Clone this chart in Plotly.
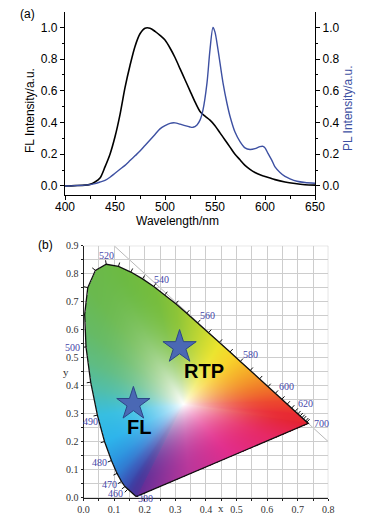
import numpy as np
import plotly.graph_objects as go

# ---------------- data: panel (a) ----------------
wl_fl = [400, 410, 420, 425, 430, 435, 440, 445, 450, 455, 460, 465, 470, 475, 480, 485,
         490, 495, 500, 505, 510, 515, 520, 525, 530, 535, 540, 545, 550, 555, 560, 565,
         570, 575, 580, 585, 590, 595, 600, 610, 620, 630, 640, 650]
fl = [0.0, 0.002, 0.005, 0.01, 0.025, 0.05, 0.12, 0.2, 0.31, 0.45, 0.62, 0.76, 0.88, 0.96,
      0.995, 0.995, 0.975, 0.95, 0.92, 0.87, 0.81, 0.74, 0.67, 0.6, 0.53, 0.47, 0.44, 0.415,
      0.38, 0.335, 0.29, 0.245, 0.2, 0.165, 0.13, 0.105, 0.085, 0.07, 0.06, 0.04, 0.025,
      0.015, 0.008, 0.005]

wl_pl = [400, 410, 420, 430, 435, 440, 445, 450, 455, 460, 465, 470, 475, 480, 485, 490,
         495, 500, 505, 510, 515, 520, 525, 528, 532, 535, 538, 542, 545, 548, 550, 553,
         558, 562, 565, 570, 575, 580, 585, 590, 595, 598, 600, 603, 607, 610, 615, 620,
         625, 632, 640, 650]
pl = [0.0, 0.002, 0.005, 0.015, 0.025, 0.035, 0.055, 0.08, 0.105, 0.13, 0.16, 0.19, 0.22,
      0.255, 0.29, 0.325, 0.36, 0.38, 0.395, 0.398, 0.39, 0.38, 0.372, 0.37, 0.385, 0.415,
      0.48, 0.65, 0.86, 1.0, 0.97, 0.86, 0.65, 0.52, 0.44, 0.34, 0.28, 0.24, 0.23, 0.235,
      0.248, 0.25, 0.24, 0.205, 0.16, 0.12, 0.085, 0.06, 0.045, 0.03, 0.022, 0.017]

# ---------------- data: panel (b) CIE 1931 spectral locus ----------------
cie_wl = [380, 390, 400, 410, 420, 430, 440, 450, 460, 465, 470, 475, 480, 485, 490, 495,
          500, 505, 510, 515, 520, 525, 530, 535, 540, 545, 550, 555, 560, 565, 570, 575,
          580, 585, 590, 595, 600, 605, 610, 615, 620, 625, 630, 635, 640, 650, 660, 680, 700]
cie_x = [0.1741, 0.1738, 0.1733, 0.1726, 0.1714, 0.1689, 0.1644, 0.1566, 0.1440, 0.1355,
         0.1241, 0.1096, 0.0913, 0.0687, 0.0454, 0.0235, 0.0082, 0.0039, 0.0139, 0.0389,
         0.0743, 0.1142, 0.1547, 0.1929, 0.2296, 0.2658, 0.3016, 0.3373, 0.3731, 0.4087,
         0.4441, 0.4788, 0.5125, 0.5448, 0.5752, 0.6029, 0.6270, 0.6482, 0.6658, 0.6801,
         0.6915, 0.7006, 0.7079, 0.7140, 0.7190, 0.7260, 0.7300, 0.7334, 0.7347]
cie_y = [0.0050, 0.0049, 0.0048, 0.0048, 0.0051, 0.0069, 0.0109, 0.0177, 0.0297, 0.0399,
         0.0578, 0.0868, 0.1327, 0.2007, 0.2950, 0.4127, 0.5384, 0.6548, 0.7502, 0.8120,
         0.8338, 0.8262, 0.8059, 0.7816, 0.7543, 0.7243, 0.6923, 0.6589, 0.6245, 0.5896,
         0.5547, 0.5202, 0.4866, 0.4544, 0.4242, 0.3965, 0.3725, 0.3514, 0.3340, 0.3197,
         0.3083, 0.2993, 0.2920, 0.2859, 0.2809, 0.2740, 0.2700, 0.2666, 0.2653]

label_wl = [520, 540, 560, 580, 600, 620, 700, 500, 490, 480, 470, 460, 380]
tick_wl = [460, 465, 470, 475, 480, 485, 490, 495, 500, 505, 510, 515, 520, 525, 530,
           535, 540, 545, 550, 555, 560, 565, 570, 575, 580, 585, 590, 595, 600, 605, 610,
           615, 620, 625, 630, 635, 640, 650, 660]

star_names = ["FL", "RTP"]
star_x = [0.163, 0.314]
star_y = [0.335, 0.538]

# ---------------- styling / layout constants ----------------
W, H = 386, 514
BLUE = "#3d50a2"
SANS = "Liberation Sans, Arial, sans-serif"
SERIF = "Liberation Serif, Times New Roman, serif"
LOCUS_BLUE = "#4545a8"

# look of the printed colour fill (edge colours by wavelength, white-point blend)
fill_wl = [380, 450, 460, 470, 478, 485, 490, 494, 498, 503, 510, 525, 540, 550, 560, 570,
           577, 585, 595, 607, 625, 700]
fill_rgb = [(100, 45, 150), (70, 55, 155), (60, 65, 165), (55, 95, 190), (45, 140, 220),
            (45, 180, 235), (55, 190, 225), (80, 190, 170), (95, 188, 130), (102, 186, 100),
            (106, 185, 78), (108, 186, 66), (118, 189, 60), (140, 196, 55), (185, 212, 50),
            (235, 228, 45), (248, 210, 42), (245, 170, 40), (240, 120, 40), (236, 70, 45),
            (232, 42, 50), (228, 35, 50)]
purple_s = [0.0, 0.2, 0.45, 0.7, 1.0]
purple_rgb = [(228, 35, 50), (230, 40, 100), (225, 45, 140), (185, 55, 155), (100, 45, 150)]
WHITE_PT = (0.325, 0.335)

# pixel boxes (left, right, top, bottom)
A_BOX = (65, 315, 12, 195)
B_BOX = (83.5, 328.3, 245.7, 497.7)
B_XR = [0, 0.8]
B_YR = [0, 0.9]
SX = (B_BOX[1] - B_BOX[0]) / (B_XR[1] - B_XR[0])
SY = (B_BOX[3] - B_BOX[2]) / (B_YR[1] - B_YR[0])

# label offsets in pixels (dx right, dy up)
label_off = {520: (0, 8.5), 540: (8, 7.5), 560: (10, 7.7), 580: (10.6, 7.4), 600: (10.7, 7.4),
             620: (10.6, 7.5), 700: (13.3, 0), 500: (-13.2, -0.7), 490: (-6.5, -6.7),
             480: (-12.3, -1.9), 470: (-12, -2.7), 460: (-12.2, -3.8), 380: (8.5, -2)}
text_off = {"FL": (5.5, -23), "RTP": (24, -24)}


def dom_x(box):
    return [box[0] / W, box[1] / W]


def dom_y(box):
    return [1 - box[3] / H, 1 - box[2] / H]


def px_paper(x, y):
    return x / W, 1 - y / H


fig = go.Figure()

# ---------------- panel (a) ----------------
fig.add_trace(go.Scatter(x=wl_fl, y=fl, mode="lines", line=dict(color="black", width=1.6, shape="spline", smoothing=0.8),
                         xaxis="x", yaxis="y", showlegend=False, hoverinfo="skip"))
fig.add_trace(go.Scatter(x=wl_pl, y=pl, mode="lines", line=dict(color=BLUE, width=1.4, shape="spline", smoothing=0.8),
                         xaxis="x", yaxis="y2", showlegend=False, hoverinfo="skip"))

# ---------------- panel (b) colour fill ----------------
nx, ny = 245, 252
dx = (B_XR[1] - B_XR[0]) / nx
dy = (B_YR[1] - B_YR[0]) / ny
gx = B_XR[0] + (np.arange(nx) + 0.5) * dx
gy = B_YR[0] + (np.arange(ny) + 0.5) * dy
PX, PY = np.meshgrid(gx, gy)

vx = np.array(cie_x)
vy = np.array(cie_y)
inside = np.zeros(PX.shape, bool)
j = len(vx) - 1
for i in range(len(vx)):
    cond = (vy[i] > PY) != (vy[j] > PY)
    xint = (vx[j] - vx[i]) * (PY - vy[i]) / (vy[j] - vy[i] + 1e-12) + vx[i]
    inside ^= cond & (PX < xint)
    j = i

# boundary samples with colours (spectral edge + purple line)
fw = np.array(fill_wl, float)
frgb = np.array(fill_rgb, float)
prgb = np.array(purple_rgb, float)
bx, by, bc = [], [], []
for i in range(len(cie_wl) - 1):
    for s in np.linspace(0, 1, 20, endpoint=False):
        w = cie_wl[i] + s * (cie_wl[i + 1] - cie_wl[i])
        bx.append(cie_x[i] + s * (cie_x[i + 1] - cie_x[i]))
        by.append(cie_y[i] + s * (cie_y[i + 1] - cie_y[i]))
        bc.append([np.interp(w, fw, frgb[:, c]) for c in range(3)])
for s in np.linspace(0, 1, 300, endpoint=False):
    bx.append(cie_x[-1] + s * (cie_x[0] - cie_x[-1]))
    by.append(cie_y[-1] + s * (cie_y[0] - cie_y[-1]))
    bc.append([np.interp(s, purple_s, prgb[:, c]) for c in range(3)])
bx = np.array(bx); by = np.array(by); bc = np.array(bc)
ang_b = np.arctan2((by - WHITE_PT[1]) * SY, (bx - WHITE_PT[0]) * SX)
rad_b = np.hypot((by - WHITE_PT[1]) * SY, (bx - WHITE_PT[0]) * SX)
order = np.argsort(ang_b)
ang_b, rad_b, bc = ang_b[order], rad_b[order], bc[order]
ang_b = np.concatenate([ang_b[-1:] - 2 * np.pi, ang_b, ang_b[:1] + 2 * np.pi])
rad_b = np.concatenate([rad_b[-1:], rad_b, rad_b[:1]])
bc = np.concatenate([bc[-1:], bc, bc[:1]])

ang_p = np.arctan2((PY - WHITE_PT[1]) * SY, (PX - WHITE_PT[0]) * SX)
rad_p = np.hypot((PY - WHITE_PT[1]) * SY, (PX - WHITE_PT[0]) * SX)
rb = np.interp(ang_p, ang_b, rad_b)
t = np.clip(rad_p / rb, 0, 1)
f = 1 - (1 - t) ** 2.5
img = np.zeros((ny, nx, 4))
for c in range(3):
    edge = np.interp(ang_p, ang_b, bc[:, c])
    img[..., c] = np.round(255 + (edge - 255) * f)
img[..., 3] = inside.astype(float)
fig.add_trace(go.Image(z=img.astype(int).tolist(), colormodel="rgba", x0=gx[0], dx=dx, y0=gy[0], dy=dy,
                       xaxis="x3", yaxis="y3", hoverinfo="skip"))

# locus outline (closed with the purple line)
fig.add_trace(go.Scatter(x=cie_x + [cie_x[0]], y=cie_y + [cie_y[0]], mode="lines",
                         line=dict(color="#111111", width=1.3), xaxis="x3", yaxis="y3",
                         showlegend=False, hoverinfo="skip"))

# wavelength tick marks on the locus (outward normals, computed in pixel space)
wl_arr = np.array(cie_wl)
tx, ty = [], []
for w in tick_wl:
    k = int(np.where(wl_arr == w)[0][0])
    k0, k1 = max(k - 1, 0), min(k + 1, len(cie_wl) - 1)
    tdx = (cie_x[k1] - cie_x[k0]) * SX
    tdy = (cie_y[k1] - cie_y[k0]) * SY
    nrm = np.hypot(tdx, tdy)
    nxp, nyp = -tdy / nrm, tdx / nrm
    L = 4.0
    tx += [cie_x[k], cie_x[k] + nxp * L / SX, None]
    ty += [cie_y[k], cie_y[k] + nyp * L / SY, None]
fig.add_trace(go.Scatter(x=tx, y=ty, mode="lines", line=dict(color="#111111", width=1),
                         xaxis="x3", yaxis="y3", showlegend=False, hoverinfo="skip"))

# stars
fig.add_trace(go.Scatter(x=star_x, y=star_y, mode="markers",
                         marker=dict(symbol="star", size=25, color="#4a68b4", line=dict(color="#2c4686", width=1)),
                         xaxis="x3", yaxis="y3", showlegend=False, hoverinfo="skip"))

annotations = []
for name, sx_, sy_ in zip(star_names, star_x, star_y):
    ox, oy = text_off[name]
    annotations.append(dict(x=sx_, y=sy_, xref="x3", yref="y3", text="<b>" + name + "</b>", showarrow=False,
                            xshift=ox, yshift=oy, font=dict(family=SANS, size=20, color="black")))
for w in label_wl:
    k = int(np.where(wl_arr == w)[0][0])
    ox, oy = label_off[w]
    annotations.append(dict(x=cie_x[k], y=cie_y[k], xref="x3", yref="y3", text=str(w), showarrow=False,
                            xshift=ox, yshift=oy, font=dict(family=SERIF, size=10, color=LOCUS_BLUE)))


def paper_text(x, y, text, font, angle=0):
    px_, py_ = px_paper(x, y)
    return dict(x=px_, y=py_, xref="paper", yref="paper", text=text, showarrow=False,
                xanchor="center", yanchor="middle", textangle=angle, font=font)


F12 = dict(family=SANS, size=12, color="black")
annotations += [
    paper_text(28, 14, "(a)", F12),
    paper_text(45, 245, "(b)", F12),
    paper_text(30, 111, "FL Intensity/a.u.", F12, -90),
    paper_text(348, 108, "PL Intensity/a.u.", dict(family=SANS, size=12, color=BLUE), -90),
    paper_text(177.5, 221, "Wavelength/nm", F12),
    dict(x=0.448, y=0, xref="x3", yref="y3", text="x", showarrow=False, yshift=-10,
         font=dict(family=SERIF, size=11, color="#333")),
    dict(x=0, y=0.45, xref="x3", yref="y3", text="y", showarrow=False, xshift=-18,
         font=dict(family=SERIF, size=11, color="#333")),
]

shapes = [
    dict(type="line", xref="x3", yref="y3", x0=0.1, y0=0.9, x1=0.8, y1=0.2,
         line=dict(color="#b8b8b8", width=1), layer="below"),
    dict(type="rect", xref="x3", yref="y3", x0=0, y0=0, x1=0.8, y1=0.9,
         line=dict(color="#c4c4c4", width=1), layer="below"),
]

ax_a = dict(showgrid=False, zeroline=False, showline=True, linecolor="black", linewidth=1.2,
            ticks="outside", ticklen=4, tickwidth=1.2, tickcolor="black", automargin=False,
            tickfont=dict(family=SANS, size=12, color="black"))
ax_b = dict(showgrid=True, gridcolor="#cdcdcd", gridwidth=1, zeroline=False, showline=True,
            linecolor="#222", linewidth=1, ticks="outside", ticklen=2, tickcolor="#222", automargin=False,
            tickfont=dict(family=SERIF, size=10, color="#333"), tickformat=".1f", dtick=0.1,
            minor=dict(dtick=0.05, showgrid=True, gridcolor="#cdcdcd", ticks="outside", ticklen=2,
                       tickcolor="#222"))

YR_A = [-0.057, 1.097]
fig.update_layout(
    template="none",
    width=W, height=H, margin=dict(l=0, r=0, t=0, b=0, autoexpand=False),
    paper_bgcolor="white", plot_bgcolor="rgba(0,0,0,0)",
    xaxis=dict(**ax_a, domain=dom_x(A_BOX), anchor="y", range=[400, 650], dtick=50, ticklabelstandoff=-4,
               minor=dict(dtick=25, ticks="outside", ticklen=3, tickcolor="black")),
    xaxis4=dict(overlaying="x", side="top", anchor="y", range=[400, 650], dtick=25, showline=True,
                linecolor="black", linewidth=1.2, ticks="inside", ticklen=3, tickcolor="black",
                showticklabels=False, showgrid=False, zeroline=False, automargin=False),
    yaxis=dict(**ax_a, domain=dom_y(A_BOX), anchor="x", range=YR_A, dtick=0.2, tickformat=".1f",
               minor=dict(dtick=0.1, ticks="outside", ticklen=2, tickcolor="black")),
    yaxis2=dict(**ax_a, overlaying="y", side="right", anchor="x", range=YR_A, dtick=0.2, tickformat=".1f",
                minor=dict(dtick=0.1, ticks="outside", ticklen=2, tickcolor="black")),
    xaxis3=dict(**ax_b, domain=dom_x(B_BOX), anchor="y3", range=B_XR, constrain="range"),
    yaxis3=dict(**ax_b, domain=dom_y(B_BOX), anchor="x3", range=B_YR, scaleanchor=False, constrain="range"),
    annotations=annotations,
    shapes=shapes,
)

fig.write_html("out.html", config={"displayModeBar": False},
               post_script="document.body.style.margin='0';document.body.style.padding='0';")
